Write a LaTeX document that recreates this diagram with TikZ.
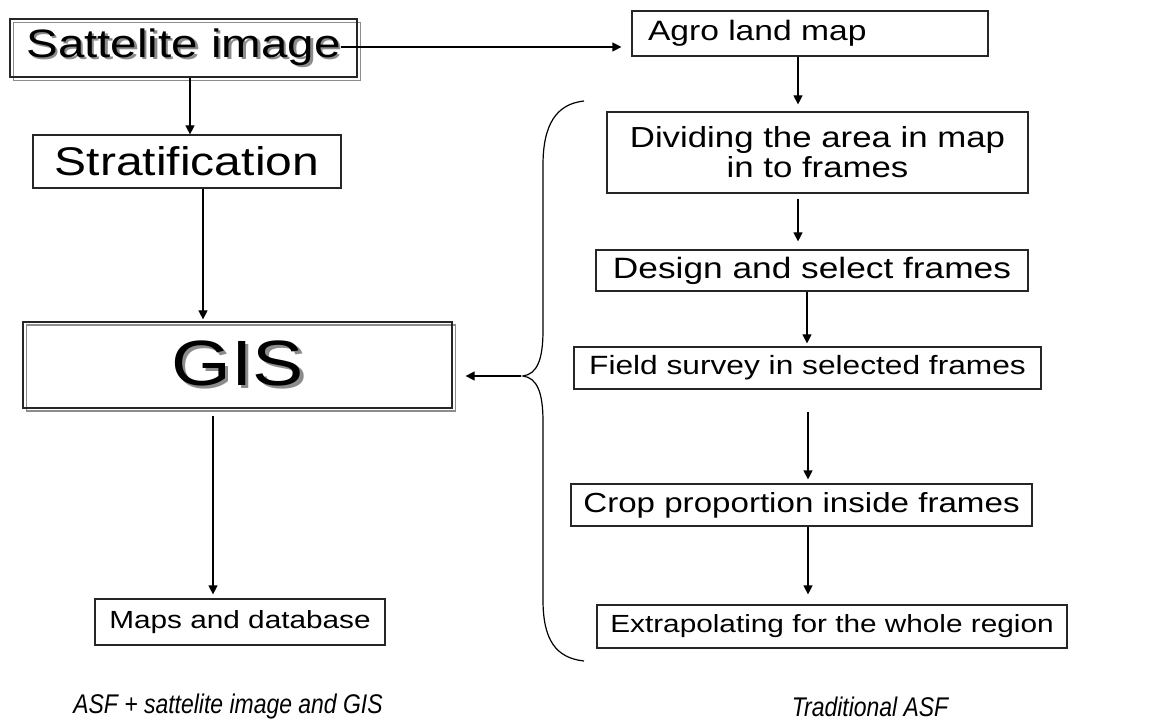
\documentclass[tikz,border=0pt]{standalone}
\usepackage{fontspec}
\setmainfont{Liberation Sans}
\newfontfamily\widefont[FakeStretch=1.2]{Liberation Sans}
\newfontfamily\narrowit[FakeStretch=0.85]{Liberation Sans Italic}
\usetikzlibrary{calc,arrows.meta}
\definecolor{shadowgray}{gray}{0.55}
\newcommand{\shadowtxt}[2]{\makebox[0pt][l]{\hspace{#1}\raisebox{-#1}{\textcolor{shadowgray}{#2}}}#2}
\begin{document}
\begin{tikzpicture}[x=0.5pt,y=-0.5pt,
  box/.style={draw=black!85,line width=0.6pt,rectangle,inner sep=0pt,align=center},
  sbox/.style={draw=shadowgray,line width=0.6pt,rectangle,inner sep=0pt},
  arr/.style={line width=0.6pt,-{Triangle[length=4.5pt,width=4.5pt]}},
  fs/.style={font=\widefont\fontsize{#1}{#1}\selectfont},
  caption/.style={font=\narrowit\fontsize{13.5pt}{14pt}\selectfont}
]
\useasboundingbox (0,0) rectangle (1159,726);
% shadowed boxes
\node[sbox,minimum width=173.5pt,minimum height=29pt] (satsh) at (187,51.5) {};
\node[box,minimum width=173.5pt,minimum height=29pt,fs=19.8pt] (sat) at (183.5,48) {\shadowtxt{1.2pt}{Sattelite image}};

\node[sbox,minimum width=214.5pt,minimum height=43pt] (gissh) at (241,368) {};
\node[box,minimum width=214.5pt,minimum height=43pt,fs=32pt] (gis) at (237.5,365) {\shadowtxt{1.8pt}{GIS}};

% plain boxes
\node[box,minimum width=178pt,minimum height=22.5pt,text width=162pt,align=left,inner xsep=8pt,fs=14pt] (agro) at (810,33.5) {Agro land map};
\node[box,minimum width=154pt,minimum height=26.5pt,fs=20pt] (strat) at (187,161.5) {Stratification};
\node[box,minimum width=145pt,minimum height=23pt,fs=12.4pt] (maps) at (240,622) {Maps and database};
\node[box,minimum width=210.5pt,minimum height=40.5pt,font=\widefont\fontsize{14.5pt}{15pt}\selectfont] (div) at (817.5,152.5) {Dividing the area in map\\in to frames};
\node[box,minimum width=216pt,minimum height=20.5pt,fs=14.7pt] (des) at (812,270.5) {Design and select frames};
\node[box,minimum width=233.5pt,minimum height=21pt,fs=13.2pt] (field) at (807.5,368) {Field survey in selected frames};
\node[box,minimum width=230.5pt,minimum height=21pt,fs=13.8pt] (crop) at (801.5,505) {Crop proportion inside frames};
\node[box,minimum width=235pt,minimum height=21.5pt,fs=12.4pt] (ext) at (832,626.5) {Extrapolating for the whole region};

% brace
\coordinate (btip) at (523,376);
\draw[line width=0.6pt] (584,101) .. controls (556,104) and (543,125) .. (543,165)
  -- (543,330) .. controls (543,360) and (537,374) .. (btip)
  .. controls (537,378) and (543,392) .. (543,422)
  -- (543,600) .. controls (543,640) and (556,658) .. (584,661);

% arrows
\draw[arr] ($(sat.east)+(-17,-1)$) -- ($(agro.west)+(-10,13.5)$);
\draw[arr] ($(sat.south)+(6.5,0)$) -- ($(strat.north)+(3,0)$);
\draw[arr] ($(strat.south)+(16,0)$) -- ($(gis.north)+(-34.5,-2)$);
\draw[arr] ($(gis.south)+(-24.5,7)$) -- ($(maps.north)+(-27,-4)$);
\draw[arr] ($(agro.south)+(-12,0)$) -- ($(div.north)+(-19.5,-7)$);
\draw[arr] ($(div.south)+(-19.5,5)$) -- ($(des.north)+(-14,-8)$);
\draw[arr] ($(des.south)+(-5,0)$) -- ($(field.north)+(-0.5,-3)$);
\draw[arr] ($(field.south)+(0.5,22)$) -- ($(crop.north)+(6.5,-4)$);
\draw[arr] ($(crop.south)+(6.5,0)$) -- ($(ext.north)+(-24,-10)$);
\draw[arr] ($(btip)+(-2,0)$) -- ($(gis.east)+(13,11)$);

% labels
\node[caption] (lab1) at (228,707) {ASF + sattelite image and GIS};
\node[caption] (lab2) at (870,707) {Traditional ASF};
\end{tikzpicture}
\end{document}
